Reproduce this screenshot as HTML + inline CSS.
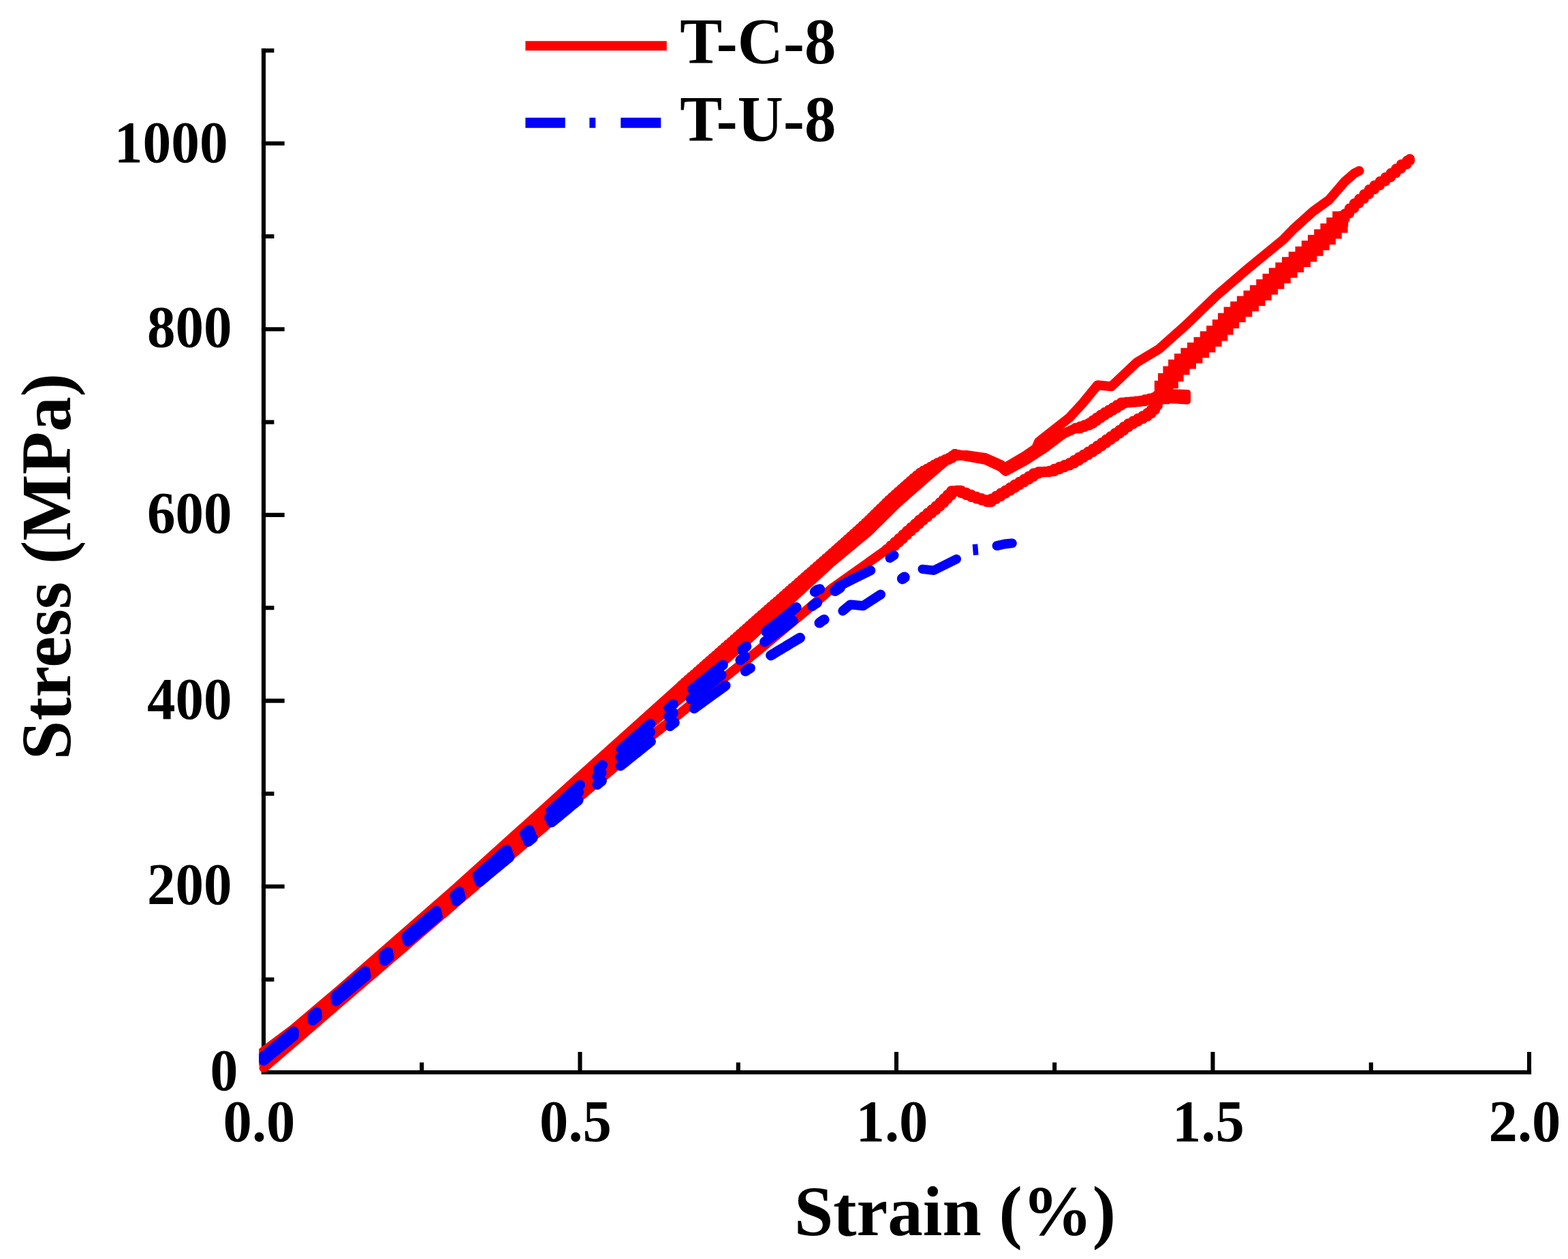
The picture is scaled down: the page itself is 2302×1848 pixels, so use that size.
<!DOCTYPE html>
<html lang="en"><head><meta charset="utf-8"><title>Stress-strain curves</title>
<style>html,body{margin:0;padding:0;background:#fff}svg{display:block}</style></head>
<body>
<svg width="2302" height="1848" viewBox="0 0 2302 1848">
<rect width="2302" height="1848" fill="#fff"/>
<g stroke="#000" stroke-width="6.1" fill="none" stroke-linecap="butt">
<path d="M387.0 71.1V1577.0"/>
<path d="M383.9 1574.0H2248.1"/>
<path d="M383.9 1574.0h33.8"/>
<path d="M383.9 1437.7h18.5"/>
<path d="M383.9 1301.3h33.8"/>
<path d="M383.9 1165.0h18.5"/>
<path d="M383.9 1028.6h33.8"/>
<path d="M383.9 892.2h18.5"/>
<path d="M383.9 755.9h33.8"/>
<path d="M383.9 619.6h18.5"/>
<path d="M383.9 483.2h33.8"/>
<path d="M383.9 346.9h18.5"/>
<path d="M383.9 210.5h33.8"/>
<path d="M383.9 74.2h18.5"/>
<path d="M387.0 1577.0v-33.0"/>
<path d="M619.2 1577.0v-17.5"/>
<path d="M851.5 1577.0v-33.0"/>
<path d="M1083.8 1577.0v-17.5"/>
<path d="M1316.0 1577.0v-33.0"/>
<path d="M1548.2 1577.0v-17.5"/>
<path d="M1780.5 1577.0v-33.0"/>
<path d="M2012.8 1577.0v-17.5"/>
<path d="M2245.0 1577.0v-33.0"/>
</g>
<defs><clipPath id="cl"><rect x="380.2" y="0" width="1922" height="1848"/></clipPath></defs>
<g clip-path="url(#cl)" fill="none" stroke-linejoin="round" stroke-linecap="round">
<path d="M376.0 1559.0L500.0 1461.0L750.0 1242.0L1001.0 1023.2L1069.9 964.0L1100.0 937.0L1164.9 876.3L1220.6 825.3L1274.4 780.8L1316.4 739.3L1362.8 698.5L1396.2 670.0L1418.4 668.0L1446.3 672.0L1470.0 682.5L1475.3 686.5L1505.0 669.0L1521.0 658.0L1525.0 648.5L1570.0 613.0L1590.0 591.3L1611.3 565.3L1631.7 567.2L1668.8 532.0L1701.3 512.5L1739.0 479.0L1786.4 433.5L1832.8 393.6L1883.8 351.9L1900.0 335.2L1927.8 310.2L1951.0 293.5L1974.2 266.6L1988.1 254.5L1995.5 250.8" stroke="#ff0000" stroke-width="14"/>
<path d="M376.0 1551.5L380.0 1548.5L430.0 1511.0L500.0 1451.8L670.0 1303.2L850.0 1141.0L1001.0 1005.5" stroke="#ff0000" stroke-width="14"/>
<path d="M1001.0 1005.5L1005.5 1005.5L1005.5 1001.5L1010.0 1001.5L1010.0 997.6L1014.5 997.6L1014.5 993.6L1019.0 993.6L1019.0 989.7L1023.5 989.7L1023.5 985.7L1028.1 985.7L1028.1 981.8L1032.6 981.8L1032.6 977.8L1037.1 977.8L1037.1 973.8L1041.6 973.8L1041.6 969.9L1046.1 969.9L1046.1 965.9L1050.6 965.9L1050.6 962.0L1055.1 962.0L1055.1 958.0L1059.6 958.0L1059.6 954.1L1064.1 954.1L1064.1 950.1L1068.6 950.1L1068.6 946.1L1073.2 946.1L1073.2 942.2L1077.6 942.2L1077.6 938.2L1082.1 938.2L1082.1 934.2L1086.6 934.2L1086.6 930.2L1091.1 930.2L1091.1 926.2L1095.6 926.2L1095.6 922.2L1100.1 922.2L1100.1 918.3L1104.6 918.3L1104.6 914.3L1109.1 914.3L1109.1 910.3L1113.6 910.3L1113.6 906.4L1118.1 906.4L1118.1 902.4L1122.6 902.4L1122.6 898.5L1127.1 898.5L1127.1 894.5L1131.6 894.5L1131.6 890.6L1136.2 890.6L1136.2 886.6L1140.7 886.6L1140.7 882.7L1145.2 882.7L1145.2 878.7L1149.7 878.7L1149.7 874.8L1154.2 874.8L1154.2 870.8L1158.7 870.8L1158.7 866.9L1163.2 866.9L1163.2 862.9L1167.8 862.9L1167.8 859.0L1172.3 859.0L1172.3 855.0L1176.8 855.0L1176.8 851.0L1181.3 851.0L1181.3 847.1L1185.8 847.1L1185.8 843.1L1190.3 843.1L1190.3 839.2L1194.8 839.2L1194.8 835.2L1199.4 835.2L1199.4 831.3L1203.9 831.3L1203.9 827.3L1208.4 827.3L1208.4 823.4L1212.9 823.4L1212.9 819.4L1217.4 819.4L1217.4 815.5L1221.9 815.5L1221.9 811.5L1226.4 811.5L1226.4 807.6L1230.9 807.6L1230.9 803.6L1235.4 803.6L1235.4 799.6L1239.9 799.6L1239.9 795.6L1244.3 795.6L1244.3 791.6L1248.8 791.6L1248.8 787.5L1253.2 787.5L1253.2 783.5L1257.7 783.5L1257.7 779.5L1262.1 779.5L1262.1 775.5L1266.6 775.5L1266.6 771.4L1271.0 771.4L1271.0 767.4L1275.3 767.4L1275.3 763.2L1279.6 763.2L1279.6 759.0L1283.9 759.0L1283.9 754.8L1288.2 754.8L1288.2 750.6L1292.5 750.6L1292.5 746.4L1296.8 746.4L1296.8 742.2L1301.0 742.2L1301.0 738.0L1305.3 738.0L1305.3 733.9L1309.7 733.9L1309.7 729.7L1314.2 729.7L1314.2 725.7L1318.7 725.7L1318.7 721.8L1323.2 721.8L1323.2 717.8L1327.7 717.8L1327.7 713.8L1332.2 713.8L1332.2 709.9L1336.7 709.9L1336.7 705.9L1341.2 705.9L1341.2 701.9L1345.8 701.9L1345.8 698.1L1350.4 698.1L1350.4 694.2L1355.5 694.2L1355.5 691.1L1360.7 691.1L1360.7 688.2L1366.0 688.2L1366.0 685.3L1371.2 685.3L1371.2 682.3L1376.4 682.3L1376.4 679.4L1381.9 679.4L1381.9 677.0L1387.4 677.0L1387.4 674.6L1392.9 674.6L1392.9 672.2L1398.0 672.2L1398.0 669.0L1401.7 669.0L1401.7 666.5" stroke="#ff0000" stroke-width="15"/>
<path d="M1401.7 666.5L1418.4 669.5L1446.3 674.5L1470.0 685.5L1476.5 691.5L1505.0 676.0L1532.8 658.0L1560.6 637.0L1579.1 628.5" stroke="#ff0000" stroke-width="14.5"/>
<path d="M1579.1 628.5L1585.7 628.5L1585.7 626.2L1592.3 626.2L1592.3 623.9L1598.8 623.9L1598.8 621.3L1604.5 621.3L1604.5 617.2L1610.2 617.2L1610.2 613.2L1616.0 613.2L1616.0 609.2L1622.0 609.2L1622.0 605.6L1628.0 605.6L1628.0 602.0L1634.0 602.0L1634.0 598.4L1639.9 598.4L1639.9 594.8L1646.0 594.8L1646.0 591.3L1653.0 591.3L1653.0 590.6L1659.9 590.6L1659.9 589.9L1666.9 589.9L1666.9 589.2L1673.8 589.2L1673.8 588.4L1680.7 588.4L1680.7 586.8L1687.5 586.8L1687.5 585.2L1694.3 585.2L1694.3 583.6L1701.1 583.6L1701.1 582.0L1708.1 582.0L1708.1 581.6L1715.1 581.6L1715.1 581.2L1722.1 581.2L1722.1 580.8L1729.1 580.8L1729.1 580.8L1736.1 580.8L1736.1 581.0L1738.0 581.0L1738.0 581.0" stroke="#ff0000" stroke-width="15.5"/>
<path d="M1716 575.5L1743.5 576.5L1743.5 589L1716 587.5Z" fill="#ff0000" stroke="#ff0000" stroke-width="9"/>
<path d="M387.4 1567.2L438.8 1523.1L500.0 1470.3L750.0 1255.5L900.0 1128.0L960.0 1077.5L1001.0 1044.9L1111.6 956.2L1192.8 888.3L1220.6 864.2L1302.0 806.5" stroke="#ff0000" stroke-width="14"/>
<path d="M1302.0 806.5L1307.9 806.5L1307.9 801.1L1313.8 801.1L1313.8 795.7L1319.8 795.7L1319.8 790.4L1325.7 790.4L1325.7 785.0L1331.6 785.0L1331.6 779.6L1337.5 779.6L1337.5 774.2L1343.5 774.2L1343.5 768.9L1349.4 768.9L1349.4 763.5L1355.6 763.5L1355.6 758.4L1361.7 758.4L1361.7 753.3L1367.9 753.3L1367.9 748.2L1374.1 748.2L1374.1 743.1L1380.0 743.1L1380.0 737.7L1385.6 737.7L1385.6 732.0L1391.2 732.0L1391.2 726.4L1396.8 726.4L1396.8 720.7L1403.6 720.7L1403.6 720.3L1411.0 720.3L1411.0 723.3L1418.4 723.3L1418.4 726.3L1425.9 726.3L1425.9 729.3L1433.5 729.3L1433.5 731.8L1441.1 731.8L1441.1 734.1L1448.7 734.1L1448.7 736.5L1455.6 736.5L1455.6 732.3L1462.4 732.3L1462.4 728.2L1469.3 728.2L1469.3 724.1L1476.1 724.1L1476.1 719.9L1483.0 719.9L1483.0 715.8L1489.8 715.8L1489.8 711.6L1496.7 711.6L1496.7 707.5L1503.5 707.5L1503.5 703.4L1510.4 703.4L1510.4 699.2L1517.2 699.2L1517.2 695.1L1524.6 695.1L1524.6 692.7L1532.6 692.7L1532.6 692.6L1540.4 692.6L1540.4 691.4L1547.8 691.4L1547.8 688.5L1555.3 688.5L1555.3 685.6L1562.8 685.6L1562.8 682.7L1570.2 682.7L1570.2 679.8L1577.0 679.8L1577.0 675.7L1583.9 675.7L1583.9 671.5L1590.7 671.5L1590.7 667.4L1597.6 667.4L1597.6 663.2L1604.4 663.2L1604.4 659.1L1611.0 659.1L1611.0 654.6L1617.5 654.6L1617.5 650.0L1624.1 650.0L1624.1 645.3L1630.6 645.3L1630.6 640.7L1637.1 640.7L1637.1 636.1L1643.6 636.1L1643.6 631.4L1650.0 631.4L1650.0 626.6L1656.6 626.6L1656.6 622.1L1663.7 622.1L1663.7 618.3L1670.7 618.3L1670.7 614.5L1677.7 614.5L1677.7 610.7L1684.5 610.7L1684.5 606.5L1690.4 606.5L1690.4 601.2L1695.5 601.2L1695.5 595.1L1699.3 595.1L1699.3 588.1L1702.5 588.1L1702.5 582.0" stroke="#ff0000" stroke-width="15.5"/>
<path d="M1702.5 582.0L1706.1 582.0L1706.1 570.0L1711.3 570.0L1711.3 558.9L1718.7 558.9L1718.7 548.8L1726.4 548.8L1726.4 539.0L1735.3 539.0L1735.3 530.2L1744.7 530.2L1744.7 522.0L1754.2 522.0L1754.2 513.9L1763.8 513.9L1763.8 505.9L1773.1 505.9L1773.1 497.5L1782.4 497.5L1782.4 489.2L1791.1 489.2L1791.1 480.2L1799.3 480.2L1799.3 470.8L1807.9 470.8L1807.9 461.7L1817.5 461.7L1817.5 453.8L1827.1 453.8L1827.1 445.8L1836.8 445.8L1836.8 437.8L1846.2 437.8L1846.2 429.7L1855.5 429.7L1855.5 421.3L1864.8 421.3L1864.8 413.0L1874.1 413.0L1874.1 404.6L1883.6 404.6L1883.6 396.5L1893.3 396.5L1893.3 388.6L1903.0 388.6L1903.0 380.7L1912.8 380.7L1912.8 372.9L1922.1 372.9L1922.1 364.6L1931.3 364.6L1931.3 356.1L1940.5 356.1L1940.5 347.7L1949.7 347.7L1949.7 339.2L1958.6 339.2L1958.6 330.4L1967.4 330.4L1967.4 321.6L1968.0 321.6L1968.0 321.0" stroke="#ff0000" stroke-width="22.5" stroke-linejoin="miter"/>
<path d="M1968.0 321.0L1974.5 321.0L1974.5 313.4L1981.0 313.4L1981.0 305.8L1988.0 305.8L1988.0 298.6L1995.3 298.6L1995.3 291.8L2002.6 291.8L2002.6 285.0L2009.9 285.0L2009.9 278.1L2017.8 278.1L2017.8 272.0L2025.8 272.0L2025.8 266.1L2033.9 266.1L2033.9 260.2L2041.8 260.2L2041.8 254.1L2049.4 254.1L2049.4 247.6L2057.0 247.6L2057.0 241.2L2065.5 241.2L2065.5 235.8L2069.8 235.8L2069.8 233.2" stroke="#ff0000" stroke-width="14.5"/>
<path d="M387.0 1550.6L390.1 1548.0L393.2 1545.5L396.2 1542.9L399.3 1540.4L402.4 1537.8L405.5 1535.3L408.6 1532.7L411.6 1530.2L414.7 1527.6L417.8 1525.1L420.9 1522.5L423.9 1520.0L427.0 1517.4L430.1 1514.9L431.3 1513.9M458.6 1491.2L461.7 1488.7L464.7 1486.1L465.1 1485.8M492.6 1462.5L495.6 1459.9L498.7 1457.4L501.8 1454.8L504.8 1452.2L507.9 1449.6L510.9 1447.0L514.0 1444.4L517.0 1441.9L520.1 1439.3L523.1 1436.7L526.2 1434.1L529.2 1431.5L532.3 1429.0L535.4 1426.4L536.1 1425.7M563.2 1402.8L566.3 1400.2L569.3 1397.6L569.7 1397.3M597.2 1374.1L600.3 1371.5L603.3 1368.9L606.4 1366.3L609.4 1363.7L612.5 1361.2L615.5 1358.6L618.6 1356.0L621.6 1353.4L624.7 1350.8L627.7 1348.2L630.8 1345.7L633.9 1343.1L636.9 1340.5L640.0 1337.9L640.7 1337.3M667.8 1314.3L670.9 1311.7L673.9 1309.1L674.2 1308.8M701.2 1284.9L704.2 1282.3L707.2 1279.6L710.2 1277.0L713.2 1274.3L716.2 1271.7L719.2 1269.0L722.2 1266.4L725.2 1263.7L728.2 1261.1L731.2 1258.4L734.2 1255.8L737.2 1253.1L740.2 1250.5L743.2 1247.8L743.9 1247.2M770.5 1223.7L773.5 1221.0L776.5 1218.4L776.9 1218.1M808.8 1189.9L811.8 1187.3L814.8 1184.6L817.8 1182.0L820.8 1179.3L823.8 1176.7L826.8 1174.0L829.8 1171.4L832.8 1168.7L835.8 1166.1L838.7 1163.4L841.7 1160.8L844.7 1158.1L847.7 1155.5L850.7 1152.8L851.5 1152.2M878.1 1128.7L881.1 1126.0L884.1 1123.4L884.5 1123.1M911.8 1099.6L914.8 1097.0L917.9 1094.4L920.9 1091.8L923.9 1089.2L926.9 1086.6L930.0 1084.0L933.0 1081.3L936.0 1078.7L939.1 1076.1L942.1 1073.5L945.1 1070.9L948.2 1068.3L951.2 1065.7L954.2 1063.1L955.0 1062.4M981.9 1039.2L984.9 1036.6L988.0 1034.1L988.4 1033.8M1016.6 1011.5L1019.8 1009.0L1022.9 1006.5L1026.0 1004.0L1029.2 1001.5L1032.3 999.0L1035.4 996.6L1038.6 994.1L1041.7 991.6L1044.9 989.1L1048.0 986.6L1051.1 984.1L1054.3 981.7L1057.4 979.2L1060.5 976.7L1061.3 976.1M1089.1 954.0L1092.3 951.6L1095.4 949.1L1095.8 948.8M1124.5 927.0L1127.6 924.5L1130.8 922.1L1134.0 919.7L1137.2 917.3L1140.4 914.8L1143.6 912.4L1146.7 910.0L1149.9 907.6L1153.0 905.0L1156.0 902.4L1159.1 899.9L1162.2 897.3L1165.2 894.7L1168.3 892.1L1169.1 891.5M1196.2 868.7L1199.3 866.1L1203.1 864.9L1203.6 864.7" stroke="#0000ff" stroke-width="15" stroke-linecap="round"/>
<path d="M387.0 1553.3L390.1 1550.8L393.2 1548.2L396.3 1545.7L399.4 1543.1L402.4 1540.6L405.5 1538.0L408.6 1535.5L411.7 1533.0L414.8 1530.4L417.9 1527.9L421.0 1525.3L424.1 1522.8L427.1 1520.2L430.2 1517.7L431.4 1516.8M458.8 1494.2L461.9 1491.6L464.9 1489.1L465.3 1488.8M492.9 1465.6L496.0 1463.0L499.0 1460.5L502.1 1457.9L505.2 1455.3L508.2 1452.8L511.3 1450.2L514.4 1447.6L517.4 1445.0L520.5 1442.5L523.5 1439.9L526.6 1437.3L529.7 1434.8L532.7 1432.2L535.8 1429.6L536.6 1429.0M563.8 1406.2L566.8 1403.6L569.9 1401.0L570.3 1400.7M597.9 1377.5L600.9 1375.0L604.0 1372.4L607.0 1369.8L610.1 1367.3L613.2 1364.7L616.2 1362.1L619.3 1359.5L622.4 1357.0L625.4 1354.4L628.5 1351.8L631.6 1349.3L634.6 1346.7L637.7 1344.1L640.7 1341.5L641.5 1340.9M668.7 1318.1L671.8 1315.5L674.8 1312.9L675.2 1312.6M702.5 1289.1L705.5 1286.5L708.6 1283.9L711.6 1281.3L714.6 1278.7L717.7 1276.1L720.7 1273.5L723.8 1270.9L726.8 1268.3L729.8 1265.7L732.9 1263.1L735.9 1260.5L738.9 1257.9L742.0 1255.3L745.0 1252.7L745.8 1252.0M772.7 1228.9L775.8 1226.3L778.8 1223.7L779.2 1223.4M806.5 1199.9L809.5 1197.3L812.6 1194.7L815.6 1192.1L818.6 1189.5L821.7 1186.9L824.7 1184.3L827.7 1181.7L830.8 1179.1L833.8 1176.5L836.9 1173.9L839.9 1171.3L842.9 1168.7L846.0 1166.1L849.0 1163.5L849.8 1162.8M876.7 1139.7L879.7 1137.1L882.8 1134.6L883.2 1134.2M910.8 1111.1L913.9 1108.6L917.0 1106.0L920.0 1103.4L923.1 1100.9L926.2 1098.3L929.2 1095.8L932.3 1093.2L935.4 1090.6L938.4 1088.1L941.5 1085.5L944.6 1082.9L947.6 1080.4L950.7 1077.8L953.8 1075.2L954.6 1074.6M981.8 1051.8L984.9 1049.3L988.0 1046.8L988.4 1046.4M1014.3 1026.1L1017.5 1023.6L1020.6 1021.1L1023.8 1018.7L1026.9 1016.2L1030.1 1013.7L1033.2 1011.3L1036.4 1008.8L1039.5 1006.3L1042.7 1003.8L1045.8 1001.4L1048.9 998.9L1052.1 996.4L1055.2 993.9L1058.3 991.4L1059.1 990.8M1086.9 968.8L1090.1 966.3L1093.2 963.8L1093.6 963.5M1122.6 942.1L1125.8 939.8L1129.0 937.4L1132.3 935.0L1135.5 932.7L1138.7 930.3L1141.9 927.9L1145.2 925.6L1148.4 923.2L1151.6 920.8L1154.8 918.4L1157.9 915.9L1161.1 913.5L1164.3 911.1M1192.5 889.5L1195.7 887.1L1199.1 885.1L1199.6 884.8" stroke="#0000ff" stroke-width="15" stroke-linecap="round"/>
<path d="M387.0 1556.6L390.1 1554.1L393.2 1551.5L396.3 1549.0L399.4 1546.5L402.5 1544.0L405.6 1541.4L408.7 1538.9L411.8 1536.4L414.9 1533.8L418.0 1531.3L421.1 1528.8L424.2 1526.3L427.3 1523.7L430.4 1521.2L431.2 1520.6M459.1 1497.8L462.2 1495.3L465.2 1492.7L465.6 1492.4M493.3 1469.4L496.4 1466.8L499.4 1464.3L502.5 1461.7L505.6 1459.2L508.7 1456.6L511.8 1454.0L514.8 1451.5L517.9 1448.9L521.0 1446.4L524.1 1443.8L527.1 1441.3L530.2 1438.7L533.3 1436.1L536.4 1433.6L537.1 1432.9M564.4 1410.3L567.5 1407.7L570.6 1405.1L571.0 1404.8M598.7 1381.8L601.7 1379.3L604.8 1376.7L607.9 1374.1L611.0 1371.6L614.0 1369.0L617.1 1366.5L620.2 1363.9L623.3 1361.4L626.3 1358.8L629.4 1356.2L632.5 1353.7L635.6 1351.1L638.6 1348.6L641.7 1346.0L642.5 1345.4M669.8 1322.7L672.9 1320.1L676.0 1317.6L676.3 1317.3M704.1 1294.3L707.2 1291.8L710.3 1289.2L713.3 1286.7L716.4 1284.1L719.5 1281.6L722.6 1279.0L725.7 1276.5L728.8 1274.0L731.8 1271.4L734.9 1268.9L738.0 1266.3L741.1 1263.8L744.2 1261.2L747.3 1258.7L748.0 1258.0M775.4 1235.4L778.5 1232.9L781.6 1230.3L782.0 1230.0M809.7 1207.1L812.8 1204.5L815.9 1202.0L819.0 1199.4L822.0 1196.9L825.1 1194.3L828.2 1191.8L831.3 1189.2L834.4 1186.7L837.5 1184.1L840.5 1181.6L843.6 1179.1L846.7 1176.5L849.0 1174.6M876.8 1151.7L879.9 1149.1L883.0 1146.6L883.4 1146.3M911.0 1124.0L914.1 1121.5L917.3 1119.0L920.4 1116.5L923.5 1114.0L926.6 1111.5L929.7 1109.0L932.8 1106.5L936.0 1104.0L939.1 1101.5L942.2 1099.0L945.3 1096.5L948.4 1093.9L951.5 1091.4L954.7 1088.9L955.4 1088.3M983.5 1065.7L986.6 1063.3L989.9 1060.9L990.3 1060.6M1019.0 1039.8L1022.2 1037.4L1025.5 1035.1L1028.7 1032.7L1031.9 1030.4L1035.2 1028.0L1038.4 1025.7L1041.7 1023.3L1044.9 1021.0L1048.1 1018.6L1051.4 1016.3L1054.6 1013.9L1057.8 1011.6L1061.1 1009.2L1064.3 1006.9L1065.1 1006.3M1094.3 985.1L1097.6 983.0L1101.0 980.9L1101.4 980.6M1131.6 961.9L1135.1 959.9L1138.5 957.8L1141.9 955.7L1145.3 953.7L1148.8 951.6L1152.2 949.6L1155.6 947.5L1159.1 945.4L1162.5 943.4L1165.9 941.3L1169.3 939.3L1172.8 937.2L1174.5 936.2M1203.0 914.3L1206.1 911.8L1209.5 909.7L1210.0 909.5" stroke="#0000ff" stroke-width="15" stroke-linecap="round"/>
<path d="M1229.9 861.4L1255.0 848.5L1278.0 837.3" stroke="#0000ff" stroke-width="14.5" stroke-linecap="round"/>
<path d="M1226.0 867.0L1233.0 862.5" stroke="#0000ff" stroke-width="16" stroke-linecap="round"/>
<path d="M1306.5 819.0L1312.5 815.0" stroke="#0000ff" stroke-width="14" stroke-linecap="round"/>
<path d="M1237.3 896.7L1248.4 887.4L1267.0 889.3L1293.0 872.5" stroke="#0000ff" stroke-width="14" stroke-linecap="round"/>
<path d="M1324.8 849.4L1327.8 847.4" stroke="#0000ff" stroke-width="16" stroke-linecap="round"/>
<path d="M1354.2 835.4L1370.9 837.3L1404.3 820.6" stroke="#0000ff" stroke-width="13.5" stroke-linecap="round"/>
<path d="M1428.3 807.0L1435.9 806.4" stroke="#0000ff" stroke-width="16" stroke-linecap="butt"/>
<path d="M1463.6 801.1L1475.0 798.5L1485.9 797.4" stroke="#0000ff" stroke-width="14" stroke-linecap="round"/>
</g>
<g font-family="'Liberation Serif', serif" font-weight="bold" fill="#000">
<text transform="translate(340.5 1327.3) scale(0.965 1)" font-size="86" text-anchor="end">200</text>
<text transform="translate(340.5 1054.6) scale(0.965 1)" font-size="86" text-anchor="end">400</text>
<text transform="translate(340.5 781.9) scale(0.965 1)" font-size="86" text-anchor="end">600</text>
<text transform="translate(340.5 509.2) scale(0.965 1)" font-size="86" text-anchor="end">800</text>
<text transform="translate(334.6 237.5) scale(0.97 1)" font-size="86" text-anchor="end">1000</text>
<text transform="translate(349.4 1600.0) scale(0.95 1)" font-size="86" text-anchor="end">0</text>
<text transform="translate(380.5 1675.0) scale(0.985 1)" font-size="86" text-anchor="middle">0.0</text>
<text transform="translate(845.0 1675.0) scale(0.985 1)" font-size="86" text-anchor="middle">0.5</text>
<text transform="translate(1309.5 1675.0) scale(0.985 1)" font-size="86" text-anchor="middle">1.0</text>
<text transform="translate(1774.0 1675.0) scale(0.985 1)" font-size="86" text-anchor="middle">1.5</text>
<text transform="translate(2238.5 1675.0) scale(0.985 1)" font-size="86" text-anchor="middle">2.0</text>
<text x="1402" y="1813" font-size="103" text-anchor="middle">Strain (%)</text>
<text transform="translate(102.5 831.5) rotate(-90)" font-size="103" text-anchor="middle">Stress (MPa)</text>
<text transform="translate(998.3 93.4) scale(0.976 1)" font-size="95.3">T-C-8</text>
<text transform="translate(998.3 207.2) scale(0.976 1)" font-size="95.3">T-U-8</text>
</g>
<path d="M771.4 67.3H978.8" stroke="#f00" stroke-width="14" fill="none"/>
<path d="M771.4 180.3H829.7M865.4 180.3H874.3M911.3 180.3H970.3" stroke="#00f" stroke-width="15" fill="none"/>
</svg>
</body></html>
